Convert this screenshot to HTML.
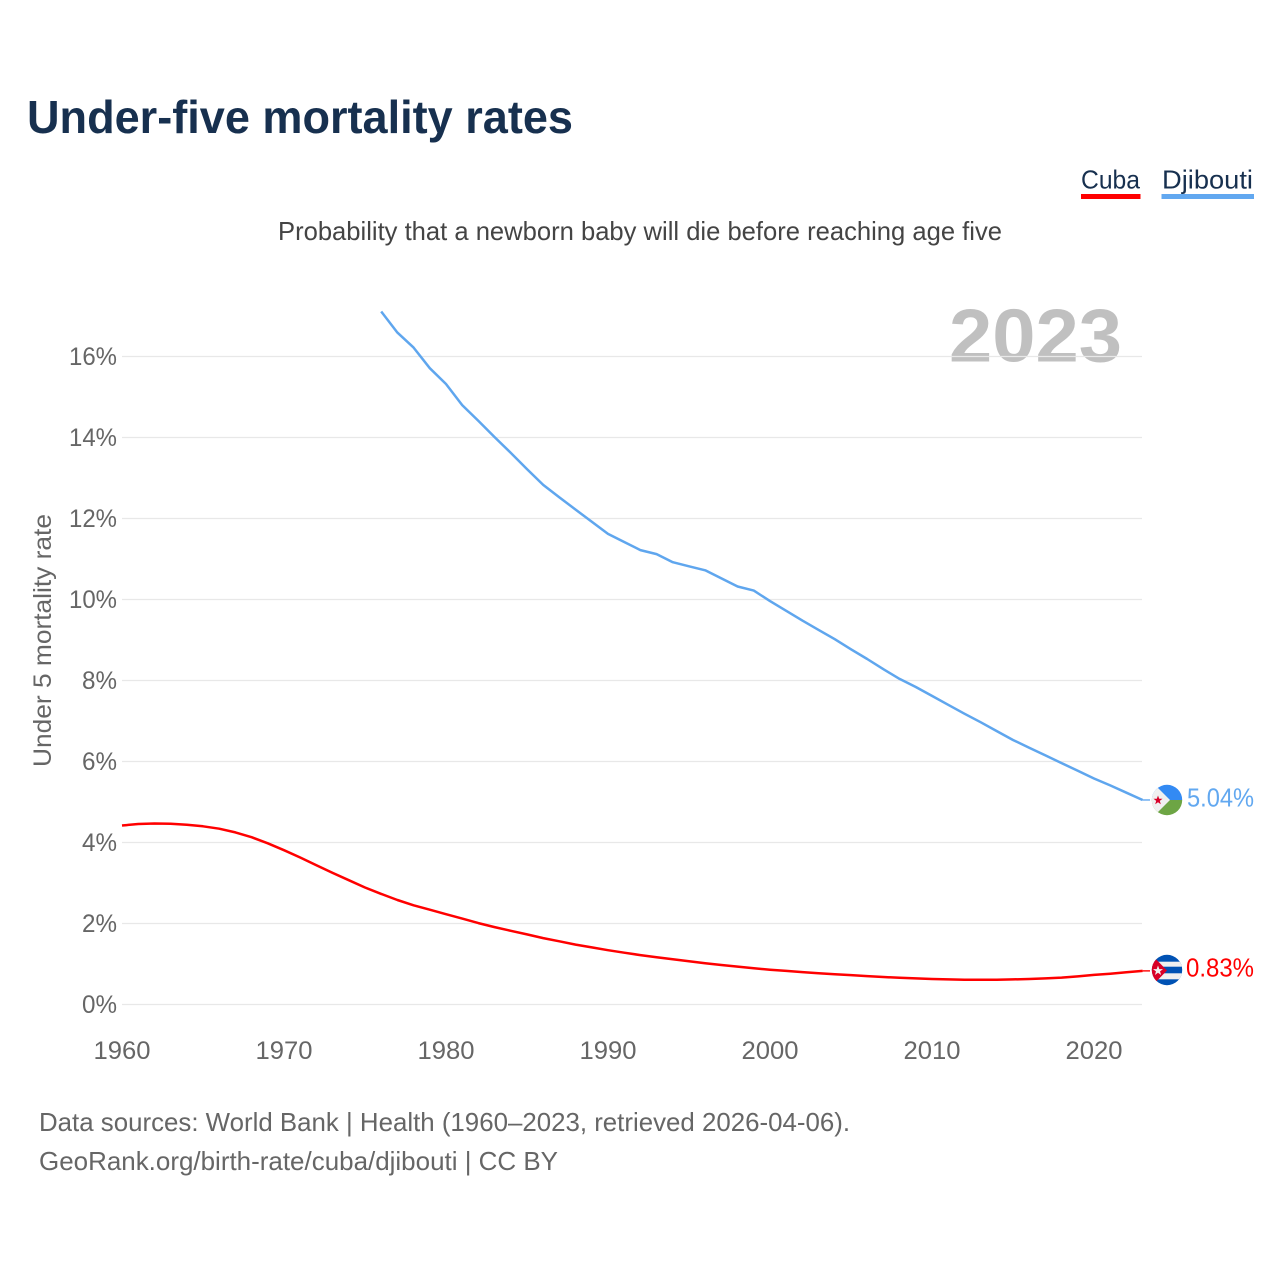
<!DOCTYPE html>
<html lang="en">
<head>
<meta charset="utf-8">
<title>Under-five mortality rates</title>
<style>
html,body{margin:0;padding:0;background:#fff;}
svg{display:block;font-family:"Liberation Sans",sans-serif;}
</style>
</head>
<body>
<svg id="chart" width="1280" height="1280" viewBox="0 0 1280 1280" xmlns="http://www.w3.org/2000/svg">
  <defs>
    <clipPath id="clip-dj"><circle cx="1167" cy="800" r="15.2"/></clipPath>
    <clipPath id="clip-cu"><circle cx="1167" cy="970" r="15.2"/></clipPath>
  </defs>
  <text x="27" y="133" font-size="46" font-weight="700" fill="#17304f" textLength="546" lengthAdjust="spacingAndGlyphs">Under-five mortality rates</text>
  <text x="278" y="240" font-size="26" fill="#444" textLength="724" lengthAdjust="spacingAndGlyphs">Probability that a newborn baby will die before reaching age five</text>
  <g>
    <text x="1081" y="188.5" font-size="26" fill="#17304f" textLength="59" lengthAdjust="spacingAndGlyphs">Cuba</text>
    <rect x="1081" y="194" width="59.5" height="5" fill="#ff0000"/>
  </g>
  <g>
    <text x="1162" y="188.5" font-size="26" fill="#17304f" textLength="91" lengthAdjust="spacingAndGlyphs">Djibouti</text>
    <rect x="1161.5" y="194" width="92.5" height="5" fill="#62a8f0"/>
  </g>
  <text x="949" y="361.5" font-size="75" font-weight="700" fill="#c0c0c0" textLength="173" lengthAdjust="spacingAndGlyphs">2023</text>
  <g id="grid"></g>
  <g id="yticks"></g>
  <g id="xticks"></g>
  <text transform="translate(51,767) rotate(-90)" font-size="25" fill="#666" textLength="253" lengthAdjust="spacingAndGlyphs">Under 5 mortality rate</text>
  <g id="series"></g>
  <g clip-path="url(#clip-dj)">
    <rect x="1148" y="780" width="40" height="20" fill="#338af3"/>
    <rect x="1148" y="800" width="40" height="20" fill="#6da544"/>
    <polygon points="1147,777 1170,800 1147,823" fill="#f0f0f0"/>
    <polygon points="1158,795.5 1159.2,798.8 1162.5,798.8 1159.8,800.9 1160.8,804.2 1158,802.2 1155.2,804.2 1156.2,800.9 1153.5,798.8 1156.8,798.8" fill="#d80027"/>
  </g>
  <g clip-path="url(#clip-cu)">
    <rect x="1148" y="950" width="40" height="40" fill="#0052b4"/>
    <rect x="1148" y="961.7" width="40" height="5" fill="#f0f0f0"/>
    <rect x="1148" y="973.3" width="40" height="6" fill="#f0f0f0"/>
    <polygon points="1147,950 1167,970.5 1147,991" fill="#d80027"/>
    <polygon points="1158,965.5 1159.3,969.1 1163,969.1 1160,971.4 1161.1,975 1158,972.8 1154.9,975 1156,971.4 1153,969.1 1156.7,969.1" fill="#f0f0f0"/>
  </g>
  <text x="1187" y="806.5" font-size="25.5" fill="#62a8f0" textLength="67" lengthAdjust="spacingAndGlyphs">5.04%</text>
  <text x="1186" y="976.5" font-size="25.5" fill="#ff0000" textLength="68" lengthAdjust="spacingAndGlyphs">0.83%</text>
  <text x="39" y="1131" font-size="26" fill="#666" textLength="811" lengthAdjust="spacingAndGlyphs">Data sources: World Bank | Health (1960–2023, retrieved 2026-04-06).</text>
  <text x="39" y="1170" font-size="26" fill="#666" textLength="519" lengthAdjust="spacingAndGlyphs">GeoRank.org/birth-rate/cuba/djibouti | CC BY</text>
</svg>
<script>
const cubaStartYear = 1960;
const djiboutiStartYear = 1976;
const yTickValues = [0, 2, 4, 6, 8, 10, 12, 14, 16];
const yTickLabels = ["0%", "2%", "4%", "6%", "8%", "10%", "12%", "14%", "16%"];
const xTickYears = [1960, 1970, 1980, 1990, 2000, 2010, 2020];
const xTickLabels = ["1960", "1970", "1980", "1990", "2000", "2010", "2020"];
const cubaValues = [4.42,4.456,4.47,4.465,4.44,4.40,4.34,4.25,4.13,3.98,3.81,3.63,3.44,3.25,3.07,2.89,2.73,2.58,2.45,2.34,2.23,2.12,2.01,1.91,1.82,1.73,1.64,1.56,1.48,1.41,1.34,1.28,1.22,1.165,1.115,1.07,1.02,0.975,0.935,0.895,0.86,0.83,0.80,0.77,0.745,0.725,0.70,0.68,0.66,0.645,0.63,0.62,0.61,0.61,0.61,0.62,0.63,0.645,0.665,0.695,0.73,0.76,0.795,0.83];
const djiboutiValues = [17.11,16.59,16.22,15.71,15.32,14.80,14.41,14.01,13.62,13.22,12.83,12.52,12.22,11.92,11.62,11.42,11.22,11.12,10.92,10.82,10.72,10.52,10.32,10.22,9.96,9.72,9.48,9.25,9.02,8.77,8.53,8.28,8.04,7.84,7.62,7.40,7.18,6.97,6.75,6.53,6.34,6.15,5.96,5.77,5.58,5.41,5.23,5.05];

const SVG_NS = "http://www.w3.org/2000/svg";
function xScale(year) { return 122 + (year - 1960) * 16.2; }
function yScale(value) { return 1004.5 - value * 40.5; }
function make(tag, attrs, parent) {
  const el = document.createElementNS(SVG_NS, tag);
  for (const k in attrs) el.setAttribute(k, attrs[k]);
  parent.appendChild(el);
  return el;
}
const grid = document.getElementById("grid");
const yticks = document.getElementById("yticks");
const xticks = document.getElementById("xticks");
const series = document.getElementById("series");

yTickValues.forEach(function (v, i) {
  const line = make("line", {x1: 122, x2: 1142, y1: yScale(v), y2: yScale(v), stroke: "#e8e8e8", "stroke-width": 1.3}, grid);
  
  
  const label = make("text", {x: 117, y: yScale(v) + 8.5, "text-anchor": "end", "font-size": 25, fill: "#666"}, yticks);
  
  
  label.setAttribute("textLength", yTickLabels[i].length === 3 ? 48 : 35);
  label.setAttribute("lengthAdjust", "spacingAndGlyphs");
  label.textContent = yTickLabels[i];
});
xTickYears.forEach(function (y, i) {
  const label = make("text", {x: xScale(y), y: 1059, "text-anchor": "middle", "font-size": 25, fill: "#666"}, xticks);
  
  
  label.setAttribute("textLength", 57);
  label.setAttribute("lengthAdjust", "spacingAndGlyphs");
  label.textContent = xTickLabels[i];
});
function seriesPoints(values, startYear) {
  return values.map(function (v, i) { return xScale(startYear + i).toFixed(1) + "," + yScale(v).toFixed(1); }).join(" ");
}
function lastPoint(values, startYear) {
  const i = values.length - 1;
  return {x: xScale(startYear + i), y: yScale(values[i])};
}
const cubaLine = make("polyline", {points: seriesPoints(cubaValues, cubaStartYear), fill: "none", stroke: "#ff0000", "stroke-width": 2.5, "stroke-linejoin": "round"}, series);


const cubaEnd = lastPoint(cubaValues, cubaStartYear);
const cubaStub = make("line", {x1: cubaEnd.x, x2: 1150, y1: cubaEnd.y, y2: cubaEnd.y, stroke: "#ff0000", "stroke-width": 1.4}, series);


const djiboutiLine = make("polyline", {points: seriesPoints(djiboutiValues, djiboutiStartYear), fill: "none", stroke: "#5fa6ee", "stroke-width": 2.5, "stroke-linejoin": "round"}, series);


const djiboutiEnd = lastPoint(djiboutiValues, djiboutiStartYear);
const djiboutiStub = make("line", {x1: djiboutiEnd.x, x2: 1150, y1: djiboutiEnd.y, y2: djiboutiEnd.y, stroke: "#62a8f0", "stroke-width": 1.4}, series);


</script>
</body>
</html>
